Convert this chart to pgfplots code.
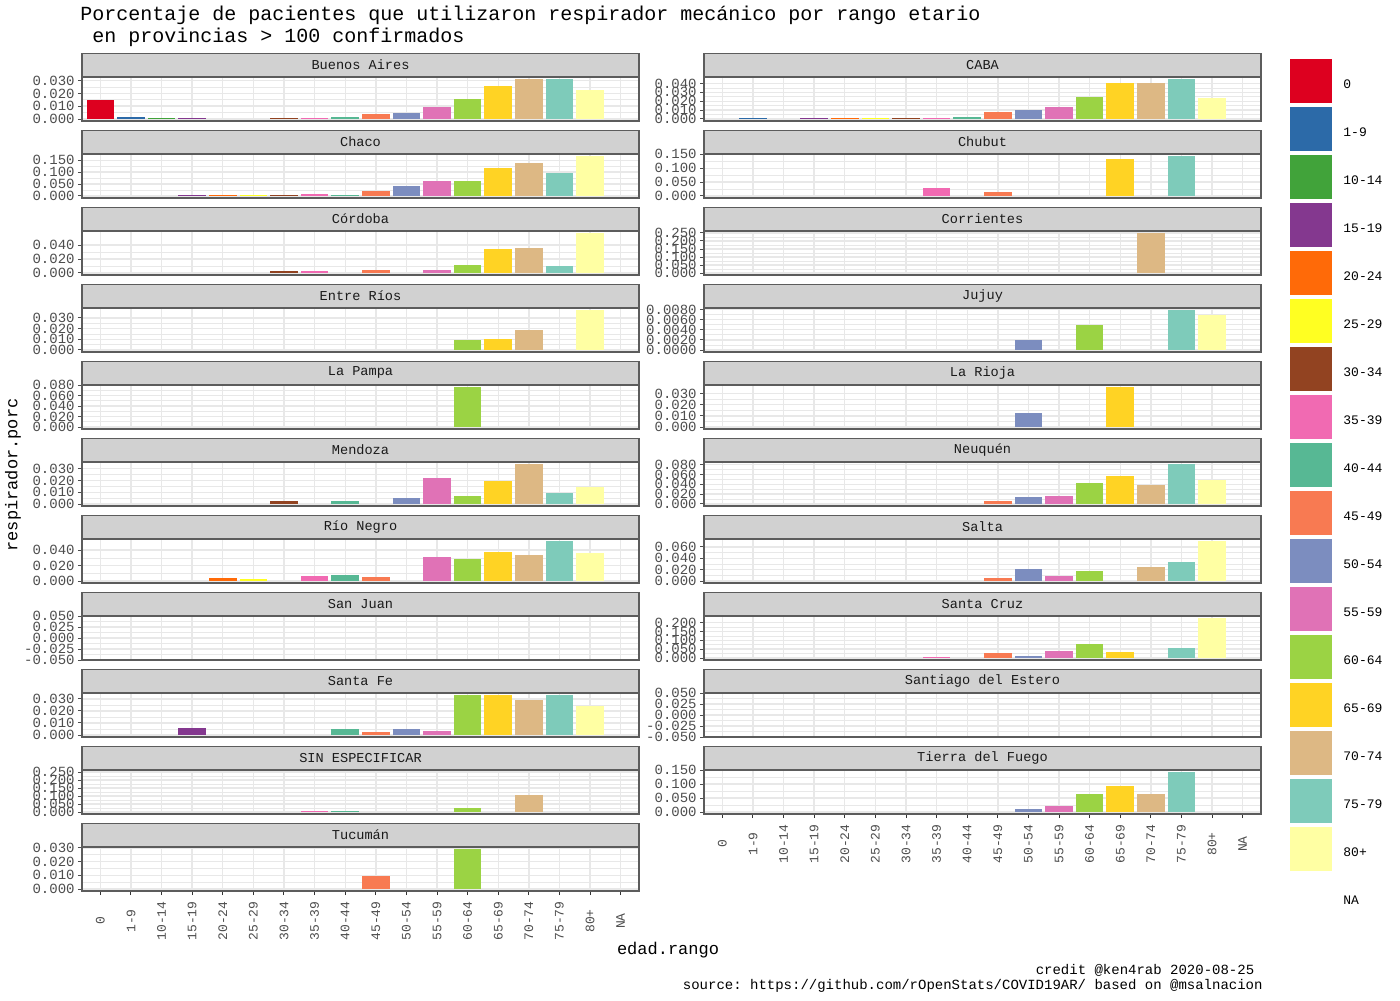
\documentclass[border=0pt]{standalone}
\usepackage{fontspec}
\setmainfont{Liberation Mono}
\usepackage{pgfplots}
\pgfplotsset{compat=1.18}
\frenchspacing
\definecolor{c0}{RGB}{221,0,31}
\definecolor{c1}{RGB}{44,106,168}
\definecolor{c2}{RGB}{65,163,58}
\definecolor{c3}{RGB}{132,56,143}
\definecolor{c4}{RGB}{255,106,8}
\definecolor{c5}{RGB}{255,255,34}
\definecolor{c6}{RGB}{146,67,33}
\definecolor{c7}{RGB}{241,106,178}
\definecolor{c8}{RGB}{87,184,148}
\definecolor{c9}{RGB}{248,122,82}
\definecolor{c10}{RGB}{124,141,191}
\definecolor{c11}{RGB}{224,114,182}
\definecolor{c12}{RGB}{155,211,68}
\definecolor{c13}{RGB}{255,211,36}
\definecolor{c14}{RGB}{221,184,132}
\definecolor{c15}{RGB}{126,203,186}
\definecolor{c16}{RGB}{255,255,163}
\definecolor{gray30}{HTML}{4D4D4D}
\definecolor{gray20}{HTML}{333333}
\definecolor{gray10}{HTML}{1A1A1A}
\definecolor{gridc}{HTML}{E8E8E8}
\definecolor{stripc}{HTML}{D1D1D1}
\newcommand\B[2]{\addplot[ybar, bar width=0.9, bar shift=0pt, fill=c#1, draw=none] coordinates {(#1,#2)};}
\pgfplotsset{
  panel/.style={
    scale only axis, width=278.5pt, height=22pt, anchor=south west,
    xmin=-0.6, xmax=17.6, xtick={0,...,17}, xticklabels={},
    tick align=outside, major tick length=2pt, minor tick length=0pt,
    xtick pos=left, ytick pos=left,
    x tick style={draw=none},
    y tick style={color=gray30, line width=0.5pt},
    grid=both, minor y tick num=1,
    major grid style={color=gridc, line width=0.7pt},
    minor grid style={color=gridc, line width=0.35pt},
    axis line style={color=gray20!80, line width=0.6pt},
    scaled y ticks=false,
    yticklabel style={font=\fontsize{7}{7}\selectfont, text=gray30, inner sep=1.5pt,
      /pgf/number format/fixed, /pgf/number format/fixed zerofill,
      /pgf/number format/precision=3, /pgf/number format/assume math mode=true},
    every axis title/.style={at={(0.5,1)}, anchor=south, fill=stripc, draw=gray20!80,
      line width=0.6pt, minimum width=278.5pt, minimum height=11.5pt, inner sep=0pt,
      font=\fontsize{6.8}{7}\selectfont, text=gray10},
  },
  bottompanel/.style={
    x tick style={draw=gray20, line width=0.5pt},
    xticklabels={0,1-9,10-14,15-19,20-24,25-29,30-34,35-39,40-44,45-49,50-54,55-59,60-64,65-69,70-74,75-79,80+,NA},
    xticklabel style={rotate=90, anchor=center, font=\fontsize{6.5}{7}\selectfont, text=gray30},
    xticklabel shift=13pt,
  },
}
\begin{document}
\begin{tikzpicture}
\path[use as bounding box] (0pt,0pt) rectangle (700pt,-500pt);
\node[anchor=base west, inner sep=0pt, font=\fontsize{10}{11}\selectfont] at (40pt,-10.5pt) {Porcentaje de pacientes que utilizaron respirador mecánico por rango etario};
\node[anchor=base west, inner sep=0pt, font=\fontsize{10}{11}\selectfont] at (40pt,-21.5pt) {\hphantom{P}en provincias > 100 confirmados};
\node[rotate=90, inner sep=0pt, font=\fontsize{8.5}{9}\selectfont] at (6.5pt,-237.5pt) {respirador.porc};
\node[inner sep=0pt, font=\fontsize{8.5}{9}\selectfont] at (334pt,-475pt) {edad.rango};
\node[anchor=base east, inner sep=0pt, font=\fontsize{7}{8}\selectfont] at (631.5pt,-487pt) {credit @ken4rab 2020-08-25\hphantom{x}};
\node[anchor=base east, inner sep=0pt, font=\fontsize{7}{8}\selectfont] at (631.5pt,-494.5pt) {source: https://github.com/rOpenStats/COVID19AR/ based on @msalnacion};

% ---------------- left column ----------------
\begin{axis}[panel, at={(41pt,-60.5pt)}, title={Buenos Aires}, ymin=-0.00156, ymax=0.0328, ytick={0,0.01,0.02,0.03}]
\B{0}{0.0146}\B{1}{0.0018}\B{2}{0.001}\B{3}{0.001}\B{6}{0.001}\B{7}{0.001}\B{8}{0.0018}\B{9}{0.004}\B{10}{0.005}\B{11}{0.0093}\B{12}{0.016}\B{13}{0.026}\B{14}{0.0312}\B{15}{0.0312}\B{16}{0.0229}
\end{axis}
\begin{axis}[panel, at={(41pt,-99pt)}, title={Chaco}, ymin=-0.0084, ymax=0.1764, ytick={0,0.05,0.1,0.15}]
\B{3}{0.004}\B{4}{0.004}\B{5}{0.004}\B{6}{0.004}\B{7}{0.008}\B{8}{0.004}\B{9}{0.020}\B{10}{0.041}\B{11}{0.065}\B{12}{0.065}\B{13}{0.119}\B{14}{0.139}\B{15}{0.098}\B{16}{0.168}
\end{axis}
\begin{axis}[panel, at={(41pt,-137.5pt)}, title={Córdoba}, ymin=-0.0029, ymax=0.0604, ytick={0,0.02,0.04}]
\B{6}{0.0023}\B{7}{0.0023}\B{9}{0.0037}\B{11}{0.0037}\B{12}{0.012}\B{13}{0.034}\B{14}{0.0354}\B{15}{0.0106}\B{16}{0.0575}
\end{axis}
\begin{axis}[panel, at={(41pt,-176pt)}, title={Entre Ríos}, ymin=-0.0019, ymax=0.0392, ytick={0,0.01,0.02,0.03}]
\B{12}{0.0089}\B{13}{0.0107}\B{14}{0.019}\B{16}{0.0373}
\end{axis}
\begin{axis}[panel, at={(41pt,-214.5pt)}, title={La Pampa}, ymin=-0.0038, ymax=0.0801, ytick={0,0.02,0.04,0.06,0.08}]
\B{12}{0.0763}
\end{axis}
\begin{axis}[panel, at={(41pt,-253pt)}, title={Mendoza}, ymin=-0.0017, ymax=0.0356, ytick={0,0.01,0.02,0.03}]
\B{6}{0.0022}\B{8}{0.0022}\B{10}{0.0047}\B{11}{0.0222}\B{12}{0.0064}\B{13}{0.0197}\B{14}{0.0339}\B{15}{0.0097}\B{16}{0.0147}
\end{axis}
\begin{axis}[panel, at={(41pt,-291.5pt)}, title={Río Negro}, ymin=-0.0026, ymax=0.0545, ytick={0,0.02,0.04}]
\B{4}{0.0034}\B{5}{0.0021}\B{7}{0.006}\B{8}{0.0072}\B{9}{0.0047}\B{11}{0.0315}\B{12}{0.0289}\B{13}{0.0379}\B{14}{0.034}\B{15}{0.0519}\B{16}{0.0366}
\end{axis}
\begin{axis}[panel, at={(41pt,-330pt)}, title={San Juan}, ymin=-0.05, ymax=0.05, ytick={-0.05,-0.025,0,0.025,0.05}]
\addplot[draw=none] coordinates {(0,0)};
\end{axis}
\begin{axis}[panel, at={(41pt,-368.5pt)}, title={Santa Fe}, ymin=-0.00166, ymax=0.0349, ytick={0,0.01,0.02,0.03}]
\B{3}{0.0062}\B{8}{0.0046}\B{9}{0.0022}\B{10}{0.0046}\B{11}{0.003}\B{12}{0.0332}\B{13}{0.0332}\B{14}{0.0289}\B{15}{0.0332}\B{16}{0.024}
\end{axis}
\begin{axis}[panel, at={(41pt,-407pt)}, title={SIN ESPECIFICAR}, ymin=-0.0125, ymax=0.2625, ytick={0,0.05,0.1,0.15,0.2,0.25}]
\B{7}{0.004}\B{8}{0.004}\B{12}{0.028}\B{14}{0.108}
\end{axis}
\begin{axis}[panel, bottompanel, at={(41pt,-445.5pt)}, title={Tucumán}, ymin=-0.00146, ymax=0.0307, ytick={0,0.01,0.02,0.03}]
\B{9}{0.0098}\B{12}{0.0292}
\end{axis}

% ---------------- right column ----------------
\begin{axis}[panel, at={(352pt,-60.5pt)}, title={CABA}, ymin=-0.00225, ymax=0.04725, ytick={0,0.01,0.02,0.03,0.04}]
\B{1}{0.001}\B{3}{0.001}\B{4}{0.001}\B{5}{0.001}\B{6}{0.001}\B{7}{0.001}\B{8}{0.002}\B{9}{0.008}\B{10}{0.010}\B{11}{0.0135}\B{12}{0.0244}\B{13}{0.0407}\B{14}{0.0407}\B{15}{0.045}\B{16}{0.0233}
\end{axis}
\begin{axis}[panel, at={(352pt,-99pt)}, title={Chubut}, ymin=-0.0072, ymax=0.1512, ytick={0,0.05,0.1,0.15}]
\B{7}{0.028}\B{9}{0.014}\B{13}{0.1335}\B{15}{0.144}
\end{axis}
\begin{axis}[panel, at={(352pt,-137.5pt)}, title={Corrientes}, ymin=-0.0125, ymax=0.2625, ytick={0,0.05,0.1,0.15,0.2,0.25}]
\B{14}{0.25}
\end{axis}
\begin{axis}[panel, at={(352pt,-176pt)}, title={Jujuy}, ymin=-0.000395, ymax=0.0083, ytick={0,0.002,0.004,0.006,0.008}, yticklabel style={/pgf/number format/precision=4}]
\B{10}{0.0020}\B{12}{0.0049}\B{15}{0.0079}\B{16}{0.0069}
\end{axis}
\begin{axis}[panel, at={(352pt,-214.5pt)}, title={La Rioja}, ymin=-0.00179, ymax=0.0376, ytick={0,0.01,0.02,0.03}]
\B{10}{0.0122}\B{13}{0.0358}
\end{axis}
\begin{axis}[panel, at={(352pt,-253pt)}, title={Neuquén}, ymin=-0.0041, ymax=0.0854, ytick={0,0.02,0.04,0.06,0.08}]
\B{9}{0.006}\B{10}{0.0139}\B{11}{0.0159}\B{12}{0.0417}\B{13}{0.0575}\B{14}{0.0377}\B{15}{0.0813}\B{16}{0.0496}
\end{axis}
\begin{axis}[panel, at={(352pt,-291.5pt)}, title={Salta}, ymin=-0.0035, ymax=0.0738, ytick={0,0.02,0.04,0.06}]
\B{9}{0.0046}\B{10}{0.0219}\B{11}{0.0081}\B{12}{0.0184}\B{14}{0.0254}\B{15}{0.034}\B{16}{0.0703}
\end{axis}
\begin{axis}[panel, at={(352pt,-330pt)}, title={Santa Cruz}, ymin=-0.0113, ymax=0.2373, ytick={0,0.05,0.1,0.15,0.2}]
\B{7}{0.004}\B{9}{0.026}\B{10}{0.009}\B{11}{0.037}\B{12}{0.077}\B{13}{0.032}\B{15}{0.054}\B{16}{0.226}
\end{axis}
\begin{axis}[panel, at={(352pt,-368.5pt)}, title={Santiago del Estero}, ymin=-0.05, ymax=0.05, ytick={-0.05,-0.025,0,0.025,0.05}]
\addplot[draw=none] coordinates {(0,0)};
\end{axis}
\begin{axis}[panel, bottompanel, at={(352pt,-407pt)}, title={Tierra del Fuego}, ymin=-0.00715, ymax=0.150, ytick={0,0.05,0.1,0.15}]
\B{10}{0.0105}\B{11}{0.021}\B{12}{0.0628}\B{13}{0.094}\B{14}{0.0628}\B{15}{0.143}
\end{axis}

% ---------------- legend ----------------
\begin{axis}[hide axis, scale only axis, width=21pt, height=10pt, at={(645pt,-29.5pt)}, anchor=north west,
  xmin=0, xmax=1, ymin=0, ymax=1,
  legend style={at={(0,1)}, anchor=north west, draw=none, fill=none, inner sep=0pt,
    row sep=2pt, font=\fontsize{6.5}{7}\selectfont, nodes={inner sep=0pt}, /tikz/column sep=5.5pt},
  legend cell align=left,
  legend image code/.code={\path[draw=none,#1] (0pt,-9pt) rectangle (21pt,13pt);}]
\addplot[draw=none, forget plot] coordinates {(0,0)};
\addlegendimage{fill=c0}\addlegendentry{0}
\addlegendimage{fill=c1}\addlegendentry{1-9}
\addlegendimage{fill=c2}\addlegendentry{10-14}
\addlegendimage{fill=c3}\addlegendentry{15-19}
\addlegendimage{fill=c4}\addlegendentry{20-24}
\addlegendimage{fill=c5}\addlegendentry{25-29}
\addlegendimage{fill=c6}\addlegendentry{30-34}
\addlegendimage{fill=c7}\addlegendentry{35-39}
\addlegendimage{fill=c8}\addlegendentry{40-44}
\addlegendimage{fill=c9}\addlegendentry{45-49}
\addlegendimage{fill=c10}\addlegendentry{50-54}
\addlegendimage{fill=c11}\addlegendentry{55-59}
\addlegendimage{fill=c12}\addlegendentry{60-64}
\addlegendimage{fill=c13}\addlegendentry{65-69}
\addlegendimage{fill=c14}\addlegendentry{70-74}
\addlegendimage{fill=c15}\addlegendentry{75-79}
\addlegendimage{fill=c16}\addlegendentry{80+}
\addlegendimage{fill=none}\addlegendentry{NA}
\end{axis}
\end{tikzpicture}
\end{document}
